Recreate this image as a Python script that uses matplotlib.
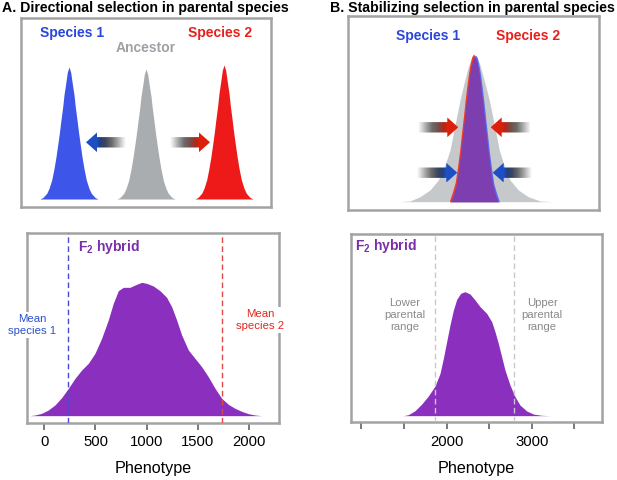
import numpy as np
import matplotlib
matplotlib.use('Agg')
import matplotlib.pyplot as plt
from matplotlib.patches import Polygon
from matplotlib.colors import LinearSegmentedColormap

plt.rcParams['font.family'] = ['Liberation Sans', 'DejaVu Sans']
plt.rcParams['mathtext.fontset'] = 'custom'
plt.rcParams['mathtext.rm'] = 'Liberation Sans'
plt.rcParams['mathtext.bf'] = 'Liberation Sans:bold'

# ---------------- data ----------------
# Panel A (bottom): F2 hybrid phenotype distribution (relative density)
f2a_x = [-140, -91, -26, 39, 104, 169, 235, 300, 365, 430, 495, 560, 625, 674,
         723, 772, 837, 886, 951, 1000, 1065, 1130, 1195, 1244, 1293, 1342,
         1407, 1472, 1537, 1602, 1668, 1733, 1798, 1863, 1928, 1993, 2058, 2124]
f2a_y = [0, 0.005, 0.0175, 0.0425, 0.08, 0.135, 0.205, 0.28, 0.3425, 0.3925,
         0.4675, 0.58, 0.7175, 0.8425, 0.9375, 0.9625, 0.9625, 0.98, 1.0, 0.9925,
         0.9725, 0.9375, 0.8875, 0.8175, 0.7175, 0.605, 0.4925, 0.43, 0.3675,
         0.2925, 0.205, 0.13, 0.085, 0.055, 0.0325, 0.015, 0.005, 0]
mean_species1 = 228
mean_species2 = 1739
a_ticks = [0, 500, 1000, 1500, 2000]

# Panel B (bottom): F2 hybrid phenotype distribution (relative density)
f2b_x = [1492, 1551, 1629, 1708, 1786, 1864, 1923, 1962, 2001, 2040, 2080, 2119,
         2166, 2216, 2275, 2334, 2393, 2471, 2530, 2569, 2608, 2647, 2686, 2745,
         2804, 2862, 2941, 3019, 3117, 3215]
f2b_y = [0, 0.008, 0.04, 0.094, 0.159, 0.239, 0.341, 0.462, 0.597, 0.731, 0.852,
         0.938, 0.987, 1.0, 0.981, 0.933, 0.879, 0.825, 0.758, 0.677, 0.583,
         0.476, 0.368, 0.247, 0.153, 0.086, 0.038, 0.013, 0.003, 0]
lower_parental = 1864
upper_parental = 2792
b_ticks = [1000, 1500, 2000, 2500, 3000, 3500]
b_ticklabels = ['', '', '2000', '', '3000', '']

# Schematic panels (arbitrary trait units)
# Panel A top: parental peaks (shape)
peakA_off = [-29, -26, -22.3, -20, -17.3, -15, -13, -11.3, -9.7, -8, -6.3, -5,
             -3.3, -1.7, 0, 1.7, 3.3, 5, 6.3, 8, 9.7, 11.3, 13, 15, 17.3, 20,
             22.3, 26, 29]
peakA_h = [0, 0.012, 0.043, 0.08, 0.144, 0.23, 0.32, 0.41, 0.496, 0.6, 0.698,
           0.79, 0.874, 0.96, 1.0, 0.96, 0.874, 0.79, 0.698, 0.6, 0.496, 0.41,
           0.32, 0.23, 0.144, 0.08, 0.043, 0.012, 0]
a_names = ['Species 1', 'Ancestor', 'Species 2']
a_centers = [48, 125, 203]
a_heights = [132, 130, 134]

# Panel B top: ancestor-like wide distribution and narrow parental peaks
wideB_off = [-75, -64, -54, -44, -35.7, -29, -24, -20.7, -17.3, -14, -10, -5.7,
             -2.3, 0, 2.7, 6, 11, 15.3, 18.7, 22, 25.3, 30, 36, 44.3, 54.3, 66, 79]
wideB_h = [0, 0.005, 0.034, 0.08, 0.148, 0.25, 0.352, 0.466, 0.58, 0.693, 0.807,
           0.92, 0.984, 1.0, 0.993, 0.932, 0.807, 0.693, 0.58, 0.466, 0.352,
           0.25, 0.148, 0.08, 0.034, 0.005, 0]
narrowB_off = [-24, -21, -18.3, -16, -13.7, -12, -10, -8.3, -6.7, -5, -3.5, -1.8,
               0, 1.8, 3.5, 5, 6.7, 8.3, 10, 12, 13.7, 16, 18.3, 21, 24]
narrowB_h = [0, 0.06, 0.125, 0.23, 0.352, 0.46, 0.58, 0.69, 0.78, 0.87, 0.93,
             0.98, 1.0, 0.98, 0.93, 0.87, 0.78, 0.69, 0.58, 0.46, 0.352, 0.23,
             0.125, 0.06, 0]
b_center = 126.5
b_height = 146.7
b_shift = 1.0

# ---------------- styles ----------------
BLUE = '#2a46dc'
RED = '#e8201c'
PURPLE = '#8b2fbe'
PURPLE_TXT = '#7a2ea8'
GRAY_TXT = '#9ea2a6'
FRAME = '#a3a3a3'

W, H = 617, 480
fig = plt.figure(figsize=(W / 100, H / 100), dpi=100)


def px_axes(l, t, r, b):
    return fig.add_axes([l / W, 1 - b / H, (r - l) / W, (b - t) / H])


def fig_text(x, y, s, **kw):
    return fig.text(x / W, 1 - y / H, s, **kw)


def frame(ax):
    for sp in ax.spines.values():
        sp.set_color(FRAME)
        sp.set_linewidth(1.8)


def grad_arrow(ax, x0, x1, y, color, mid, dark, head_len=11, head_hw=9.8, shaft_hw=5.2):
    d = np.sign(x1 - x0)
    xb = x1 - d * head_len
    verts = [(x0, y - shaft_hw), (xb, y - shaft_hw), (xb, y - head_hw), (x1, y),
             (xb, y + head_hw), (xb, y + shaft_hw), (x0, y + shaft_hw)]
    poly = Polygon(verts, closed=True, fc='none', ec='none')
    ax.add_patch(poly)
    fh = 1 - head_len / abs(x1 - x0)
    cmap = LinearSegmentedColormap.from_list(
        'g', [(0, '#ffffff'), (0.1 * fh, '#e2e2e2'), (0.3 * fh, '#a2a2a2'),
              (0.5 * fh, '#6a6a6a'), (0.72 * fh, mid), (0.9 * fh, dark),
              (fh, color), (1, color)])
    grad = np.linspace(0, 1, 256).reshape(1, -1)
    im = ax.imshow(grad, cmap=cmap, extent=[x0, x1, y - head_hw, y + head_hw],
                   aspect='auto', interpolation='bilinear', zorder=4)
    im.set_clip_path(poly)


BLUE_ARROW = ('#1d4fc4', '#3a4560', '#22407e')
RED_ARROW = ('#dc200c', '#7a4a44', '#b02818')

# ---------------- Panel A top ----------------
axA = px_axes(21, 18, 271, 207)
frame(axA)
axA.set_xticks([]); axA.set_yticks([])
peak_colors = ['#3d55e8', '#a9adb0', '#ee1a1a']
base = 8
for c, h, col in zip(a_centers, a_heights, peak_colors):
    xs = np.array(peakA_off) + c
    ys = np.array(peakA_h) * h + base
    axA.fill_between(xs, base, ys, color=col, lw=0, zorder=2)
grad_arrow(axA, 105, 65, 64.7, *BLUE_ARROW)
grad_arrow(axA, 149, 189, 64.7, *RED_ARROW)
axA.set_xlim(0, 250); axA.set_ylim(0, 189)

# ---------------- Panel B top ----------------
axB = px_axes(348, 16, 599, 210)
frame(axB)
axB.set_xticks([]); axB.set_yticks([])
baseB = 8.3
axB.fill_between(np.array(wideB_off) + b_center - 0.5, baseB,
                 np.array(wideB_h) * b_height + baseB, color='#c6c9cc', lw=0, zorder=1)
nx = np.array(narrowB_off)
nh = np.array(narrowB_h) * b_height + baseB
axB.fill_between(nx + b_center - b_shift, baseB, nh + 1, color='#f03a2a', lw=0, zorder=2)
axB.fill_between(nx + b_center + b_shift, baseB, nh, color='#5a6cf0', lw=0, zorder=2)
axB.fill_between(nx + b_center, baseB, nh - 1.5, color='#7d3fb0', lw=0, zorder=3)
grad_arrow(axB, 70.3, 110.3, 82.7, *RED_ARROW)
grad_arrow(axB, 182, 142.7, 82.7, *RED_ARROW)
grad_arrow(axB, 69.3, 109.3, 37.3, *BLUE_ARROW)
grad_arrow(axB, 183.7, 144.7, 37.3, *BLUE_ARROW)
axB.set_xlim(0, 251); axB.set_ylim(0, 194)

# ---------------- Panel A bottom ----------------
axC = px_axes(27, 233, 279, 423)
frame(axC)
axC.fill_between(f2a_x, 0, f2a_y, color=PURPLE, lw=0, zorder=2)
axC.axvline(mean_species1, color='#4a4ad0', ls=(0, (4, 2.5)), lw=1.0, zorder=3)
axC.axvline(mean_species2, color='#e04848', ls=(0, (4, 2.5)), lw=1.0, zorder=3)
axC.set_xlim(-169, 2293)
axC.set_ylim(-0.055, 1.37)
axC.set_xticks(a_ticks)
axC.set_yticks([])

# ---------------- Panel B bottom ----------------
axD = px_axes(351, 234, 602, 422)
frame(axD)
axD.fill_between(f2b_x, 0, f2b_y, color=PURPLE, lw=0, zorder=2)
axD.axvline(lower_parental, color='#c8c8cc', ls=(0, (4, 2.5)), lw=1.0, zorder=3)
axD.axvline(upper_parental, color='#c8c8cc', ls=(0, (4, 2.5)), lw=1.0, zorder=3)
axD.set_xlim(877, 3826)
axD.set_ylim(-0.051, 1.465)
axD.set_xticks(b_ticks)
axD.set_xticklabels(b_ticklabels)
axD.set_yticks([])

for ax in (axC, axD):
    ax.tick_params(axis='x', direction='out', length=5, width=1.1, color='#555555',
                   labelsize=10.7, pad=4)

# ---------------- texts ----------------
fig_text(2, 8, 'A. Directional selection in parental species', fontsize=10.2,
         fontweight='bold', ha='left', va='center')
fig_text(330, 8, 'B. Stabilizing selection in parental species', fontsize=10.2,
         fontweight='bold', ha='left', va='center')

fig_text(72, 33, a_names[0], color=BLUE, fontsize=10, fontweight='bold', ha='center', va='center')
fig_text(220, 33, a_names[2], color=RED, fontsize=10, fontweight='bold', ha='center', va='center')
fig_text(146, 48, a_names[1], color=GRAY_TXT, fontsize=10, fontweight='bold', ha='center', va='center')
fig_text(428, 36, 'Species 1', color=BLUE, fontsize=10, fontweight='bold', ha='center', va='center')
fig_text(528, 36, 'Species 2', color=RED, fontsize=10, fontweight='bold', ha='center', va='center')

fig_text(78, 247, r'$\mathbf{F_2}$ hybrid', color=PURPLE_TXT, fontsize=10,
         fontweight='bold', ha='left', va='center')
fig_text(355, 246, r'$\mathbf{F_2}$ hybrid', color=PURPLE_TXT, fontsize=10,
         fontweight='bold', ha='left', va='center')

box = dict(fc='white', ec='none', pad=1.5)
fig_text(32, 325, 'Mean\nspecies 1', color='#2a50cc', fontsize=8.2, ha='center',
         va='center', linespacing=1.25, bbox=box)
fig_text(260, 320, 'Mean\nspecies 2', color='#e0281e', fontsize=8.2, ha='center',
         va='center', linespacing=1.25, bbox=box)
fig_text(405, 315, 'Lower\nparental\nrange', color='#8a8a8a', fontsize=8.2,
         ha='center', va='center', linespacing=1.25)
fig_text(542, 315, 'Upper\nparental\nrange', color='#8a8a8a', fontsize=8.2,
         ha='center', va='center', linespacing=1.25)

fig_text(153, 468, 'Phenotype', fontsize=11.6, ha='center', va='center')
fig_text(476.5, 468, 'Phenotype', fontsize=11.6, ha='center', va='center')

fig.savefig('out.png', dpi=100)
